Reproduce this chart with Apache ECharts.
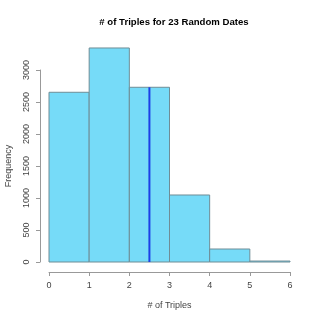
<!DOCTYPE html>
<html><head><meta charset="utf-8">
<script src="https://cdn.jsdelivr.net/npm/echarts@6/dist/echarts.min.js"></script>
<style>html,body{margin:0;padding:0;background:#fff}#c{width:320px;height:320px}</style>
</head><body><div id="c"></div>
<script>
var binStarts = [0, 1, 2, 3, 4, 5];
var binEnds = [1, 2, 3, 4, 5, 6];
var counts = [2652, 3344, 2730, 1047, 203, 15];
var meanValue = 2.5;
var meanHeight = 2730;
var xTicks = [0, 1, 2, 3, 4, 5, 6];
var yTicks = [0, 500, 1000, 1500, 2000, 2500, 3000];

var chart = echarts.init(document.getElementById('c'), null, {renderer: 'canvas'});
var F = 'Liberation Sans, Arial, sans-serif';
chart.setOption({
  animation: false,
  title: {
    text: '# of Triples for 23 Random Dates',
    left: 169, top: 12, textAlign: 'center',
    textStyle: {fontFamily: F, fontSize: 9.6, fontWeight: 'bold', color: '#000'}
  },
  grid: {left: 49, right: 30, top: 70, bottom: 58, containLabel: false, outerBoundsMode: 'none'},
  xAxis: {
    type: 'value', min: 0, max: 6, interval: 1, offset: 10,
    name: '# of Triples', nameLocation: 'middle', nameGap: 29,
    nameTextStyle: {fontFamily: F, fontSize: 9, color: '#444'},
    axisLine: {show: true, onZero: false, lineStyle: {color: '#999', width: 1}},
    axisTick: {show: true, length: 4, lineStyle: {color: '#999'}},
    axisLabel: {fontFamily: F, fontSize: 9, color: '#444', margin: 9, formatter: function (v) { return String(v); }},
    splitLine: {show: false}
  },
  yAxis: {
    type: 'value', min: 0, max: 3000, interval: 500, offset: 9,
    name: 'Frequency', nameLocation: 'middle', nameGap: 27, nameRotate: 90,
    nameTextStyle: {fontFamily: F, fontSize: 9, color: '#444'},
    axisLine: {show: true, onZero: false, lineStyle: {color: '#999', width: 1}},
    axisTick: {show: true, length: 4, lineStyle: {color: '#999'}},
    axisLabel: {fontFamily: F, fontSize: 9, color: '#444', margin: 9, rotate: 90, formatter: function (v) { return String(v); }},
    splitLine: {show: false}
  },
  series: [{
    type: 'custom',
    clip: false,
    data: counts.map(function (c, i) { return [binStarts[i], binEnds[i], c]; }),
    renderItem: function (params, api) {
      var p0 = api.coord([api.value(0), api.value(2)]);
      var p1 = api.coord([api.value(1), 0]);
      return {
        type: 'rect',
        shape: {x: p0[0], y: p0[1], width: p1[0] - p0[0], height: p1[1] - p0[1]},
        style: {fill: '#76dbf8', stroke: '#6f8d96', lineWidth: 1}
      };
    }
  }, {
    type: 'line',
    data: [[meanValue, 0], [meanValue, meanHeight]],
    showSymbol: false, symbol: 'none',
    lineStyle: {color: '#1c3fe6', width: 2},
    z: 5
  }]
});
</script></body></html>
